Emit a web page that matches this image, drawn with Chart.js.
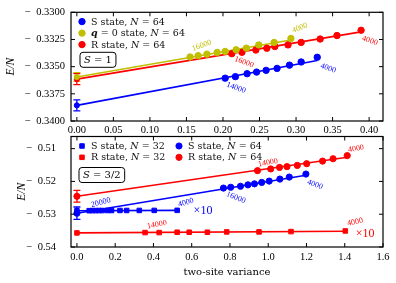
<!DOCTYPE html>
<html><head><meta charset="utf-8">
<script src="https://cdn.jsdelivr.net/npm/chart.js@4"></script>
<style>
html,body{margin:0;padding:0;background:#fff;}
#wrap{position:relative;width:396px;height:283px;overflow:hidden;}
canvas{position:absolute;left:0;top:0;}
</style></head><body>
<div id="wrap"><canvas id="c1" width="396" height="283"></canvas><canvas id="c2" width="396" height="283"></canvas></div>
<script>
// ---------- Top panel (S = 1) ----------
const topXTicks = [0, 0.05, 0.10, 0.15, 0.20, 0.25, 0.30, 0.35, 0.40];
const topYTicks = [-0.3400, -0.3375, -0.3350, -0.3325, -0.3300];

const s1_S_x = [0.203, 0.217, 0.233, 0.246, 0.259, 0.274, 0.291, 0.307, 0.329];
const s1_S_y = [-0.33606, -0.33592, -0.33565, -0.33550, -0.33534, -0.33516, -0.33486, -0.33457, -0.33414];
const s1_Q_x = [0.155, 0.166, 0.178, 0.192, 0.203, 0.218, 0.232, 0.249, 0.270, 0.293];
const s1_Q_y = [-0.33411, -0.33399, -0.33385, -0.33369, -0.33360, -0.33345, -0.33330, -0.33300, -0.33277, -0.33240];
const s1_R_x = [0.212, 0.226, 0.245, 0.260, 0.271, 0.289, 0.307, 0.333, 0.356, 0.389];
const s1_R_y = [-0.33381, -0.33368, -0.33347, -0.33331, -0.33315, -0.33300, -0.33277, -0.33246, -0.33214, -0.33165];
// extrapolated values (variance -> 0), error, fit-line end
const s1_extrap   = [-0.33856, -0.33595, -0.33615];   // S, q=0, R
const s1_extrapErr = [0.0005, 0.0004, 0.0005];
const s1_fitEndX  = [0.329, 0.293, 0.389];
const s1_fitEndY  = [-0.33444, -0.33255, -0.33180];

// ---------- Bottom panel (S = 3/2) ----------
const botXTicks = [0, 0.2, 0.4, 0.6, 0.8, 1.0, 1.2, 1.4, 1.6];
const botYTicks = [-0.54, -0.53, -0.52, -0.51];

const s32_S32_x = [0.064, 0.080, 0.098, 0.115, 0.132, 0.160, 0.181, 0.225, 0.260, 0.326, 0.404, 0.524];
const s32_S32_y = [-0.52892, -0.52890, -0.52890, -0.52888, -0.52888, -0.52887, -0.52887, -0.52886, -0.52886, -0.52885, -0.52884, -0.52882];
const s32_R32_x = [0.356, 0.430, 0.524, 0.587, 0.682, 0.783, 0.952, 1.119, 1.403];
const s32_R32_y = [-0.5356, -0.5356, -0.5355, -0.5355, -0.5355, -0.5354, -0.5354, -0.5353, -0.5351];
const s32_S64_x = [0.766, 0.804, 0.855, 0.894, 0.928, 0.966, 1.005, 1.061, 1.110, 1.197];
const s32_S64_y = [-0.52203, -0.52178, -0.52148, -0.52105, -0.52074, -0.52032, -0.51990, -0.51928, -0.51867, -0.51775];
const s32_R64_x = [0.944, 1.013, 1.059, 1.098, 1.152, 1.201, 1.284, 1.339, 1.413];
const s32_R64_y = [-0.51671, -0.51619, -0.51573, -0.51549, -0.51512, -0.51460, -0.51381, -0.51308, -0.51213];
const s32_extrap    = [-0.52895, -0.53570, -0.52970, -0.52454]; // S32, R32, S64, R64
const s32_extrapErr = [0, 0, 0.0019, 0.0018];
const s32_fitEndX   = [0.524, 1.410, 1.197, 1.413];
const s32_fitEndY   = [-0.52882, -0.53520, -0.51814, -0.51265];

const BLUE = '#0000ff', YEL = '#bfbf00', RED = '#ff0000';
const SERIF_T = "'Liberation Serif', serif";
const SERIF_D = "'DejaVu Serif', serif";

function pts(xs, ys) { return xs.map((x, i) => ({x: x, y: ys[i]})); }
function series(label, xs, ys, color, style, r, lc, lr) {
  return {label: label, data: pts(xs, ys), showLine: false, pointStyle: style, pointRadius: r,
    pointBackgroundColor: color, pointBorderColor: color, pointBorderWidth: 1, borderColor: color,
    backgroundColor: color, order: 1, legendCol: lc, legendRow: lr};
}
function fitLine(y0, ex, ey, err, color, style, r) {
  return {data: [{x: 0, y: y0}, {x: ex, y: ey}], showLine: true, borderColor: color, backgroundColor: color,
    borderWidth: 1.6, pointRadius: [r, 0], pointStyle: style, pointBackgroundColor: color,
    pointBorderColor: color, pointBorderWidth: 1, errors: [err, 0], order: 2};
}
function fmt(v, d) { const s = Math.abs(v).toFixed(d); return (v < -1e-12 ? '\u2212\u2002' : '') + s; }

function richText(ctx, str, x, y, size, color, family) {
  const parts = str.split(/(\b[NSq]\b(?= =))/);
  let cx = x;
  ctx.fillStyle = color; ctx.textBaseline = 'middle'; ctx.textAlign = 'left';
  parts.forEach(p => {
    if (!p) return;
    let f = size + 'px ' + family;
    if (p === 'N' || p === 'S') f = 'italic ' + f;
    if (p === 'q') f = 'italic bold ' + f;
    ctx.font = f; ctx.fillText(p, cx, y); cx += ctx.measureText(p).width;
  });
  return cx - x;
}
function measureRich(ctx, str, size, family) {
  const parts = str.split(/(\b[NSq]\b(?= =))/);
  let w = 0;
  parts.forEach(p => { if (!p) return; let f = size + 'px ' + family;
    if (p === 'N' || p === 'S') f = 'italic ' + f; if (p === 'q') f = 'italic bold ' + f;
    ctx.font = f; w += ctx.measureText(p).width; });
  return w;
}

const deco = {
  id: 'deco',
  beforeDatasetsDraw(chart) {
    const {ctx, scales: {x, y}} = chart;
    ctx.save();
    chart.data.datasets.forEach(ds => {
      if (!ds.errors) return;
      ds.data.forEach((p, i) => {
        const e = ds.errors[i]; if (!e) return;
        const px = x.getPixelForValue(p.x), y1 = y.getPixelForValue(p.y - e), y2 = y.getPixelForValue(p.y + e);
        ctx.strokeStyle = ds.borderColor; ctx.lineWidth = 1.3;
        ctx.beginPath();
        ctx.moveTo(px, y1); ctx.lineTo(px, y2);
        ctx.moveTo(px - 3.5, y1); ctx.lineTo(px + 3.5, y1);
        ctx.moveTo(px - 3.5, y2); ctx.lineTo(px + 3.5, y2);
        ctx.stroke();
      });
    });
    ctx.restore();
  },
  afterDraw(chart, args, o) {
    const {ctx, chartArea: a, scales: {x, y}} = chart;
    ctx.save();
    // frame
    ctx.strokeStyle = '#000'; ctx.lineWidth = 1.2;
    ctx.strokeRect(a.left, a.top, a.right - a.left, a.bottom - a.top);
    // inward ticks on all four sides
    ctx.lineWidth = 1;
    ctx.beginPath();
    x.ticks.forEach(t => { const px = x.getPixelForValue(t.value);
      ctx.moveTo(px, a.bottom); ctx.lineTo(px, a.bottom - 4);
      ctx.moveTo(px, a.top); ctx.lineTo(px, a.top + 4); });
    y.ticks.forEach(t => { const py = y.getPixelForValue(t.value);
      ctx.moveTo(a.left, py); ctx.lineTo(a.left + 4, py);
      ctx.moveTo(a.right, py); ctx.lineTo(a.right - 4, py); });
    ctx.stroke();
    // legend
    const L = o.legend;
    chart.data.datasets.forEach(ds => {
      if (ds.legendRow === undefined) return;
      const mx = a.left + L.x + ds.legendCol * L.dx, my = a.top + L.y + ds.legendRow * L.dy;
      ctx.fillStyle = ds.pointBackgroundColor; ctx.strokeStyle = ds.pointBorderColor; ctx.lineWidth = 1;
      Chart.helpers.drawPoint(ctx, {pointStyle: ds.pointStyle, radius: ds.pointRadius, borderWidth: 1, rotation: 0}, mx, my);
      richText(ctx, ds.label, mx + L.tx, my + 0.5, L.size, '#111', SERIF_D);
    });
    // state box
    const B = o.box;
    const tw = measureRich(ctx, B.text, B.size, SERIF_D);
    const bx = a.left + B.x, by = a.top + B.y, bw = tw + 8, bh = B.size + 5;
    ctx.strokeStyle = '#000'; ctx.lineWidth = 1;
    ctx.beginPath(); ctx.roundRect(bx, by, bw, bh, 3); ctx.stroke();
    richText(ctx, B.text, bx + 4, by + bh / 2 + 0.5, B.size, '#000', SERIF_D);
    // number annotations
    o.notes.forEach(n => {
      ctx.save();
      ctx.translate(x.getPixelForValue(n.x), y.getPixelForValue(n.y));
      ctx.rotate(n.r * Math.PI / 180);
      ctx.font = n.s + 'px ' + SERIF_T; ctx.fillStyle = n.c; ctx.textAlign = 'center'; ctx.textBaseline = 'middle';
      ctx.fillText(n.t, 0, 0);
      ctx.restore();
    });
    ctx.restore();
  }
};

function axis(min, max, tickArr, dec, fitFn, pad, extra) {
  return Object.assign({
    type: 'linear', min: min, max: max,
    afterBuildTicks: s => { s.ticks = tickArr.map(v => ({value: v})); },
    afterFit: fitFn,
    ticks: {callback: v => fmt(v, dec), font: {family: SERIF_T, size: 10.5}, color: '#000', padding: pad, maxRotation: 0, autoSkip: false},
    grid: {display: false, drawTicks: false},
    border: {display: false}
  }, extra || {});
}

// ---------- Top chart ----------
const topSets = [
  series('S state, N = 64', s1_S_x, s1_S_y, BLUE, 'circle', 3.2, 0, 0),
  series('q = 0 state, N = 64', s1_Q_x, s1_Q_y, YEL, 'circle', 3.2, 0, 1),
  series('R state, N = 64', s1_R_x, s1_R_y, RED, 'circle', 3.2, 0, 2),
  fitLine(s1_extrap[0], s1_fitEndX[0], s1_fitEndY[0], s1_extrapErr[0], BLUE, 'circle', 2.6),
  fitLine(s1_extrap[1], s1_fitEndX[1], s1_fitEndY[1], s1_extrapErr[1], YEL, 'circle', 2.6),
  fitLine(s1_extrap[2], s1_fitEndX[2], s1_fitEndY[2], s1_extrapErr[2], RED, 'circle', 2.6)
];
const topNotes = [
  {t: '16000', x: 0.171, y: -0.33306, c: YEL, r: -20, s: 8},
  {t: '4000',  x: 0.305, y: -0.33144, c: YEL, r: -20, s: 8},
  {t: '16000', x: 0.229, y: -0.33459, c: RED, r: 20, s: 8},
  {t: '4000',  x: 0.401, y: -0.33261, c: RED, r: 20, s: 8},
  {t: '14000', x: 0.218, y: -0.33694, c: BLUE, r: 20, s: 8},
  {t: '4000',  x: 0.344, y: -0.33514, c: BLUE, r: 20, s: 8}
];
new Chart(document.getElementById('c1'), {
  type: 'scatter',
  data: {datasets: topSets},
  options: {
    responsive: false, animation: false, devicePixelRatio: 1,
    layout: {padding: {left: 0, top: 10, right: 13, bottom: 0}},
    plugins: {legend: {display: false}, tooltip: {enabled: false},
      deco: {legend: {x: 11, y: 9.3, dx: 0, dy: 11.5, tx: 9, size: 9.5},
             box: {text: 'S = 1', x: 9, y: 40, size: 10},
             notes: topNotes}},
    scales: {
      x: axis(-0.008, 0.419, topXTicks, 2, s => { s.height = 162; }, 3),
      y: axis(-0.34, -0.33, topYTicks, 4, s => { s.width = 71; }, 6,
        {title: {display: true, text: 'E/N', color: '#000', font: {family: SERIF_T, size: 11.5, style: 'italic'}, padding: {top: 4, bottom: 0}}})
    }
  },
  plugins: [deco]
});

// ---------- Bottom chart ----------
const botSets = [
  series('S state, N = 32', s32_S32_x, s32_S32_y, BLUE, 'rect', 3.2, 0, 0),
  series('R state, N = 32', s32_R32_x, s32_R32_y, RED, 'rect', 3.2, 0, 1),
  series('S state, N = 64', s32_S64_x, s32_S64_y, BLUE, 'circle', 3.1, 1, 0),
  series('R state, N = 64', s32_R64_x, s32_R64_y, RED, 'circle', 3.1, 1, 1),
  fitLine(s32_extrap[0], s32_fitEndX[0], s32_fitEndY[0], s32_extrapErr[0], BLUE, 'rect', 3.2),
  fitLine(s32_extrap[1], s32_fitEndX[1], s32_fitEndY[1], s32_extrapErr[1], RED, 'rect', 3.2),
  fitLine(s32_extrap[2], s32_fitEndX[2], s32_fitEndY[2], s32_extrapErr[2], BLUE, 'circle', 3.1),
  fitLine(s32_extrap[3], s32_fitEndX[3], s32_fitEndY[3], s32_extrapErr[3], RED, 'circle', 3.1)
];
const botNotes = [
  {t: '20000', x: 0.125, y: -0.52646, c: BLUE, r: -15, s: 8},
  {t: '4000',  x: 0.570, y: -0.52646, c: BLUE, r: -15, s: 8},
  {t: '\u00d710', x: 0.659, y: -0.52905, c: BLUE, r: 0, s: 12},
  {t: '16000', x: 0.831, y: -0.52494, c: BLUE, r: 22, s: 8},
  {t: '4000',  x: 1.244, y: -0.52098, c: BLUE, r: 20, s: 8},
  {t: '14000', x: 0.999, y: -0.51427, c: RED, r: -10, s: 8},
  {t: '4000',  x: 1.459, y: -0.51000, c: RED, r: -10, s: 8},
  {t: '14000', x: 0.418, y: -0.53317, c: RED, r: -10, s: 8},
  {t: '4000',  x: 1.454, y: -0.53241, c: RED, r: -12, s: 8},
  {t: '\u00d710', x: 1.506, y: -0.53591, c: RED, r: 0, s: 12}
];
new Chart(document.getElementById('c2'), {
  type: 'scatter',
  data: {datasets: botSets},
  options: {
    responsive: false, animation: false, devicePixelRatio: 1,
    layout: {padding: {left: 0, top: 136.5, right: 13, bottom: 0}},
    plugins: {legend: {display: false}, tooltip: {enabled: false},
      deco: {legend: {x: 11, y: 9.5, dx: 97, dy: 11.3, tx: 9, size: 9.5},
             box: {text: 'S = 3/2', x: 8, y: 31, size: 10},
             notes: botNotes}},
    scales: {
      x: axis(-0.031, 1.6, botXTicks, 1, s => { s.height = 36; }, 4,
        {title: {display: true, text: 'two-site variance', color: '#000', font: {family: SERIF_D, size: 10}, padding: {top: 0, bottom: 5}}}),
      y: axis(-0.54, -0.5063, botYTicks, 2, s => { s.width = 71; }, 15,
        {title: {display: true, text: 'E/N', color: '#000', font: {family: SERIF_T, size: 11.5, style: 'italic'}, padding: {top: 15, bottom: 0}}})
    }
  },
  plugins: [deco]
});
</script>
</body></html>
